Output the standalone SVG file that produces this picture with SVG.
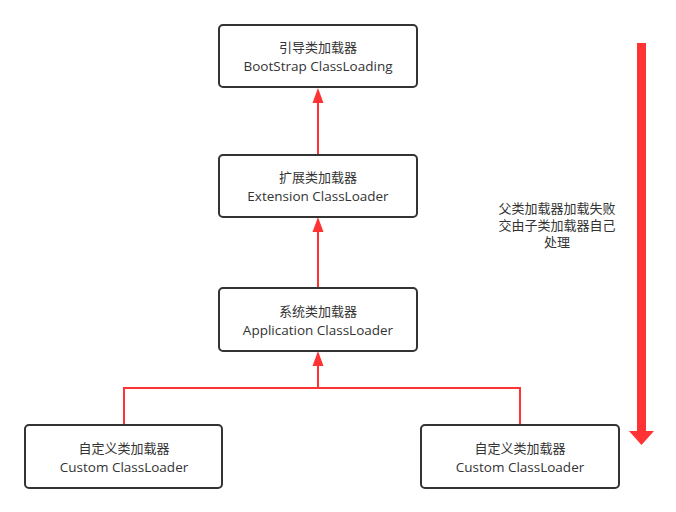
<svg xmlns="http://www.w3.org/2000/svg" width="676" height="512" viewBox="0 0 676 512">
<defs>
<style>
.node rect{fill:#fff;stroke:#333;stroke-width:2}
.node text,.note{font-family:"Open Sans","Noto Sans CJK SC",sans-serif;font-size:13px;fill:#333;text-anchor:middle}
.node text.en{font-size:13.5px}
.conn{fill:none;stroke:#ff3333;stroke-width:2}
</style>
</defs>
<rect width="676" height="512" fill="#fff"/>
<g id="connectors">
<path class="conn" d="M318,155 V102"/>
<path d="M318,88 L312.5,103 L323.5,103 Z" fill="#ff3333"/>
<path class="conn" d="M318,288 V231"/>
<path d="M318,217 L312.5,232 L323.5,232 Z" fill="#ff3333"/>
<path class="conn" d="M124,425 V388 H520 V425"/>
<path class="conn" d="M318,388 V365"/>
<path d="M318,351 L312.5,366 L323.5,366 Z" fill="#ff3333"/>
<path d="M637,43 H646 V431 H654 L641.5,445 L629,431 H637 Z" fill="#ff3333"/>
</g>
<g id="n-bootstrap" class="node">
<rect x="219" y="25" width="198" height="62" rx="4"/>
<text x="318" y="52">引导类加载器</text>
<text class="en" x="318" y="71">BootStrap ClassLoading</text>
</g>
<g id="n-extension" class="node">
<rect x="219" y="155" width="198" height="62" rx="4"/>
<text x="318" y="182">扩展类加载器</text>
<text class="en" x="318" y="201">Extension ClassLoader</text>
</g>
<g id="n-application" class="node">
<rect x="219" y="288" width="198" height="63" rx="4"/>
<text x="318" y="316">系统类加载器</text>
<text class="en" x="318" y="335">Application ClassLoader</text>
</g>
<g id="n-custom1" class="node">
<rect x="25" y="425" width="197" height="63" rx="4"/>
<text x="124" y="453">自定义类加载器</text>
<text class="en" x="124" y="472">Custom ClassLoader</text>
</g>
<g id="n-custom2" class="node">
<rect x="421" y="425" width="198" height="63" rx="4"/>
<text x="520" y="453">自定义类加载器</text>
<text class="en" x="520" y="472">Custom ClassLoader</text>
</g>
<g id="note">
<text class="note" x="557" y="213">父类加载器加载失败</text>
<text class="note" x="557" y="230">交由子类加载器自己</text>
<text class="note" x="557" y="247">处理</text>
</g>
</svg>
